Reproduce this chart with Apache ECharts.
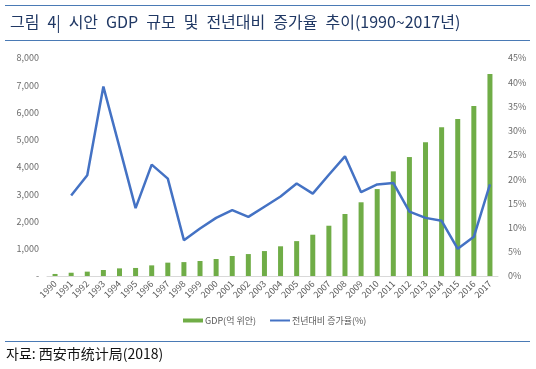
<!DOCTYPE html>
<html><head><meta charset="utf-8">
<script src="https://cdn.jsdelivr.net/npm/echarts@6/dist/echarts.min.js"></script>
<style>html,body{margin:0;padding:0;background:#fff;}#c{width:536px;height:369px;}</style>
</head><body><div id="c"></div>
<script>
const years = ['1990','1991','1992','1993','1994','1995','1996','1997','1998','1999','2000','2001','2002','2003','2004','2005','2006','2007','2008','2009','2010','2011','2012','2013','2014','2015','2016','2017'];
const gdp = [75,120,160,220,280,295,390,490,510,550,625,735,805,915,1090,1280,1515,1845,2275,2705,3190,3840,4365,4905,5455,5760,6240,7410];
const growth = [null,16.6,20.8,39.1,26.6,14.0,23.0,20.1,7.4,9.8,12.0,13.6,12.2,14.3,16.4,19.1,17.0,20.9,24.7,17.3,18.9,19.2,13.3,12.0,11.4,5.6,8.1,18.9];
const titleText = '그림 4| 시안 GDP 규모 및 전년대비 증가율 추이(1990~2017년)';
const sourceText = '자료: 西安市统计局(2018)';
const gdpName = 'GDP(억 위안)';
const growthName = '전년대비 증가율(%)';

const font = '"Noto Sans CJK KR", "Noto Sans", sans-serif';
const chart = echarts.init(document.getElementById('c'), null, {renderer:'canvas'});
chart.setOption({
  animation:false,
  textStyle:{fontFamily:font},
  title:{text:titleText.replace(/ /g,'\u2002'), left:5, top:9, textStyle:{fontFamily:font, fontSize:16, fontWeight:'normal', color:'#203864'}},
  graphic:[
    {type:'line', shape:{x1:5,y1:5.5,x2:530,y2:5.5}, style:{stroke:'#4a7ab5', lineWidth:1.2}},
    {type:'line', shape:{x1:5,y1:40.5,x2:530,y2:40.5}, style:{stroke:'#4a7ab5', lineWidth:1.2}},
    {type:'line', shape:{x1:5,y1:341.5,x2:530,y2:341.5}, style:{stroke:'#4a7ab5', lineWidth:1.2}},
    {type:'text', left:6, top:347, style:{text:sourceText, font:'14px '+font, fill:'#111'}}
  ],
  legend:{top:311, left:178, itemGap:14, itemWidth:20, itemHeight:4,
    textStyle:{fontSize:9, color:'#595959', fontFamily:font, padding:[0,0,0,-3]},
    data:[{name:gdpName, icon:'rect'},{name:growthName, icon:'path://M0,0 L20,0 L20,2 L0,2 Z'}]},
  grid:{left:47, right:38, top:58, bottom:93},
  xAxis:{type:'category', data:years,
    axisLine:{lineStyle:{color:'#d9d9d9'}}, axisTick:{show:false},
    axisLabel:{rotate:45, fontSize:9, color:'#595959', interval:0, margin:6}},
  yAxis:[
    {type:'value', min:0, max:8000, interval:1000, splitLine:{show:false},
     axisLabel:{fontSize:9, color:'#6b6b6b', margin:8, formatter:v=> v===0?'-':v.toLocaleString('en-US')}},
    {type:'value', min:0, max:45, interval:5, splitLine:{show:false},
     axisLabel:{fontSize:9, color:'#6b6b6b', margin:10, formatter:v=>v+'%'}}
  ],
  series:[
    {name:gdpName, type:'bar', data:gdp, barWidth:5, itemStyle:{color:'#70ad47'}, yAxisIndex:0},
    {name:growthName, type:'line', data:growth, yAxisIndex:1, showSymbol:false, symbol:'none',
     lineStyle:{color:'#4472c4', width:2.5}, itemStyle:{color:'#4472c4'}, connectNulls:false}
  ]
});
</script></body></html>
